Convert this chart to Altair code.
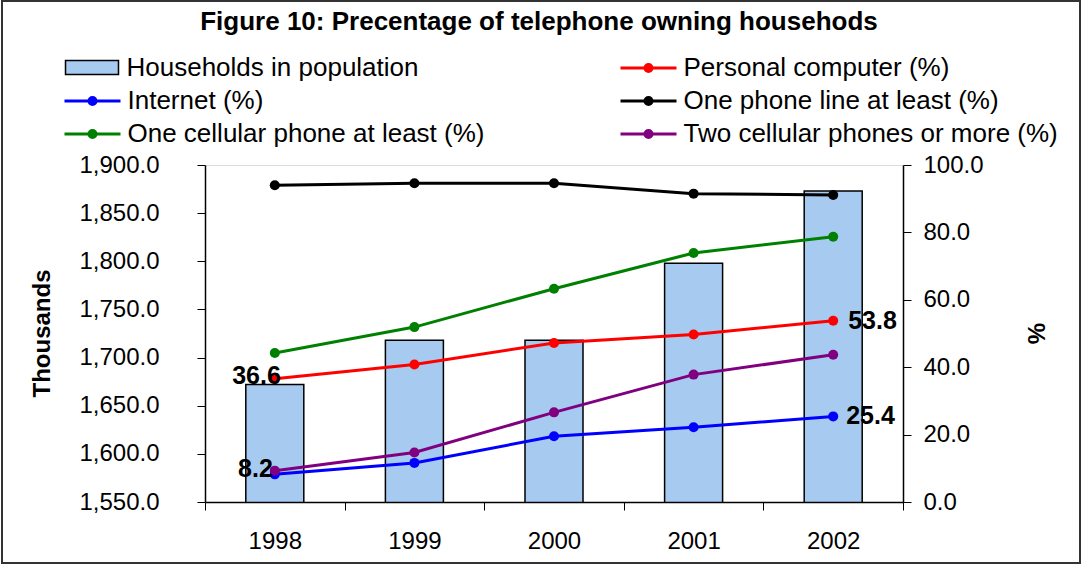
import altair as alt
import pandas as pd

# ---------------- data ----------------
years = ["1998", "1999", "2000", "2001", "2002"]
households = [1672, 1718, 1718, 1798, 1873]           # thousands (left axis)
personal_computer = [36.6, 40.8, 47.2, 49.7, 53.8]    # %
internet = [8.2, 11.6, 19.5, 22.2, 25.4]
phone_line = [94.0, 94.6, 94.6, 91.5, 91.1]
cellular_one = [44.2, 51.9, 63.3, 73.9, 78.7]
cellular_two = [9.3, 14.7, 26.6, 37.8, 43.7]

series_names = [
    "Households in population",
    "Personal computer (%)",
    "Internet (%)",
    "One phone line at least (%)",
    "One cellular phone at least (%)",
    "Two cellular phones or more (%)",
]
bar_color = "#A6CAF0"
line_colors = ["transparent", "#FF0000", "#0000FF", "#000000", "#008000", "#800080"]

FONT = "Arial"

bars_df = pd.DataFrame({"year": years, "value": households, "series": series_names[0]})

line_values = {
    series_names[1]: personal_computer,
    series_names[2]: internet,
    series_names[3]: phone_line,
    series_names[4]: cellular_one,
    series_names[5]: cellular_two,
}
rows = []
for order, (name, vals) in enumerate(line_values.items()):
    for y, v in zip(years, vals):
        rows.append({"year": y, "series": name, "value": v, "order": order})
lines_df = pd.DataFrame(rows)

# ---------------- legend symbols ----------------
SYM = 1369   # nominal symbol box 37 px (unit = 18.5 px)
rect_path = "M-1.432,-0.378H1.432V0.378H-1.432Z"
line_path = ("M-1.514,0H1.514"
             "M0.189,0A0.189,0.189,0,1,1,-0.189,0A0.189,0.189,0,1,1,0.189,0Z"
             "M0.054,0A0.054,0.054,0,1,1,-0.054,0A0.054,0.054,0,1,1,0.054,0Z")

LEG_X, LEG_Y = -142, -117
common_legend = dict(
    title=None, orient="none", legendX=LEG_X, legendY=LEG_Y,
    labelFont=FONT, labelFontSize=26, labelColor="black", labelLimit=0,
    labelOffset=15, symbolSize=SYM, symbolOffset=9.5, padding=0,
)

line_color = alt.Color(
    "series:N",
    scale=alt.Scale(domain=series_names, range=line_colors),
    legend=alt.Legend(
        columns=2, direction="horizontal", columnPadding=129, rowPadding=0,
        symbolType=line_path, symbolStrokeWidth=3, symbolOpacity=1,
        labelExpr=f"datum.value == '{series_names[0]}' ? '' : datum.label",
        **common_legend,
    ),
)

bar_fill = alt.Fill(
    "series:N",
    scale=alt.Scale(domain=[series_names[0]], range=[bar_color]),
    legend=alt.Legend(
        symbolType=rect_path, symbolStrokeColor="black", symbolStrokeWidth=1.5,
        symbolFillColor=bar_color, symbolOpacity=1,
        **common_legend,
    ),
)

x = alt.X(
    "year:N", title=None,
    scale=alt.Scale(paddingInner=0, paddingOuter=0),
    axis=alt.Axis(
        tickBand="extent", labelAngle=0, labelFont=FONT, labelFontSize=24,
        labelColor="black", tickSize=8, tickColor="black", domainColor="black",
        domainWidth=1.5, labelPadding=19, grid=False, zindex=1,
    ),
)

bars = alt.Chart(bars_df).mark_bar(
    size=58, stroke="black", strokeWidth=1.5, opacity=1, clip=True
).encode(
    x=x,
    y=alt.Y(
        "value:Q",
        scale=alt.Scale(domain=[1550, 1900], nice=False, zero=False),
        axis=alt.Axis(
            title="Thousands", values=list(range(1550, 1901, 50)), format=",.1f",
            labelFont=FONT, labelFontSize=24, labelColor="black", labelOverlap=False,
            tickSize=8, tickColor="black", domainColor="black", domainWidth=1.5,
            labelPadding=38, grid=False, zindex=1,
            titleFont=FONT, titleFontSize=24, titleFontWeight="bold", titleColor="black",
            titleX=-163, titleY=168, titleBaseline="middle", titleAngle=-90,
        ),
    ),
    fill=bar_fill,
)

lines = alt.Chart(lines_df).mark_line(
    strokeWidth=3, point=alt.OverlayMarkDef(size=100, filled=True, opacity=1)
).encode(
    x=x,
    y=alt.Y(
        "value:Q",
        scale=alt.Scale(domain=[0, 100], nice=False),
        axis=alt.Axis(
            orient="right", title="%", values=list(range(0, 101, 10)), format=".1f",
            labelFont=FONT, labelFontSize=24, labelColor="black", labelOverlap=False,
            tickSize=8, tickColor="black", domainColor="black", domainWidth=1.5,
            labelPadding=12, grid=False, zindex=1,
            titleFont=FONT, titleFontSize=24, titleFontWeight="bold", titleColor="black",
            titleX=134, titleY=168, titleBaseline="middle", titleAngle=-90,
        ),
    ),
    color=line_color,
    order="order:Q",
)


def value_label(series, year, align, dx, dy):
    return alt.Chart(lines_df).transform_filter(
        (alt.datum.series == series) & (alt.datum.year == year)
    ).mark_text(
        align=align, baseline="middle", dx=dx, dy=dy, font=FONT, fontSize=25,
        fontWeight="bold", color="black"
    ).encode(x=x, y="value:Q", text=alt.Text("value:Q", format=".1f"))


labels = [
    value_label(series_names[1], years[0], "right", 6, -3),
    value_label(series_names[2], years[0], "right", -2, -5),
    value_label(series_names[1], years[-1], "left", 15, 0),
    value_label(series_names[2], years[-1], "left", 13, 0),
]

frame = alt.Chart(pd.DataFrame({"k": [0]})).mark_rect(
    fillOpacity=0, stroke="#333333", strokeWidth=2
).encode(
    x=alt.value(-203), x2=alt.value(875), y=alt.value(-164), y2=alt.value(398)
)

right_layer = alt.layer(lines, *labels)

chart = alt.layer(frame, bars, right_layer).resolve_scale(
    y="independent"
).properties(
    width=698, height=337,
    padding={"left": 1, "top": 0, "right": 0, "bottom": 0},
    title=alt.TitleParams(
        "Figure 10: Precentage of  telephone owning househods",
        font=FONT, fontSize=26, fontWeight="bold", color="black",
        anchor="middle", dx=-15, offset=-35,
    ),
).configure_view(
    fill="#C0C0C0", stroke="#808080", strokeWidth=1.5
).configure(background="white")

chart.save("out.html", embed_options={"renderer": "svg", "actions": False})
